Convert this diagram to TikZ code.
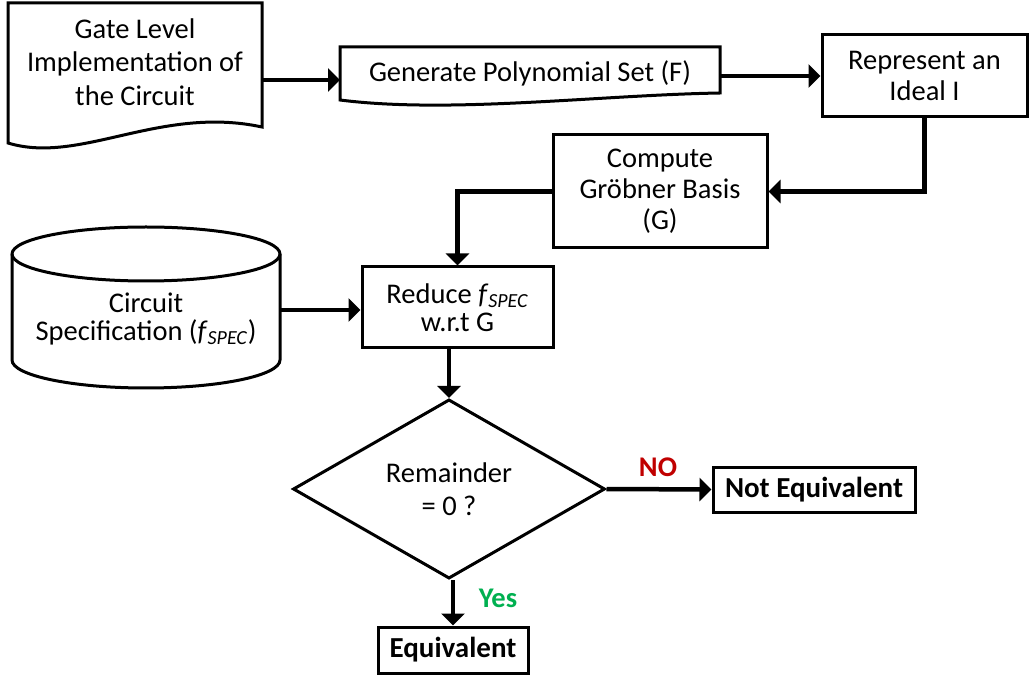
\documentclass[tikz,border=0pt]{standalone}
\usepackage{fontspec}
\setmainfont{Carlito}
\usetikzlibrary{arrows.meta,shapes.geometric}
\definecolor{noRed}{RGB}{192,0,0}
\definecolor{yesGreen}{RGB}{0,176,80}
\newcommand{\fspec}{\textit{f}\textsubscript{\textit{SPEC}}}
\newcommand{\mainsize}[1]{\fontsize{28.5}{#1}\selectfont}
\begin{document}
\begin{tikzpicture}[x=1pt,y=-1pt,
  outline/.style={draw=black, line width=3pt, fill=white, line join=miter},
  box/.style={outline, rectangle, inner sep=0pt, align=center},
  result/.style={outline, rectangle, inner sep=0pt, align=center,
    font=\bfseries\fontsize{29}{32}\selectfont},
  txt/.style={inner sep=0pt, align=center},
  flow/.style={line width=4.5pt, -{Triangle[length=12pt,width=23pt]}},
  answer/.style={inner sep=0pt, font=\bfseries\fontsize{28.5}{30}\selectfont}
]
\useasboundingbox (0,0) rectangle (1029,676);

% gate level netlist (document shape)
\draw[outline] (8,3) -- (262,3) -- (262,127)
  .. controls (160,105) and (80,165) .. (8,143) -- cycle;
\node[txt, font=\mainsize{33.5}] (gate) at (135,62)
  {Gate Level\\Implementation of\\the Circuit};
\coordinate (gateR) at (262,80);

% polynomial set (document shape)
\draw[outline] (340,47) -- (720,47) -- (720,93)
  .. controls (600,95) and (450,114) .. (340,100) -- cycle;
\node[txt, font=\mainsize{31}] (gen) at (530,73) {Generate Polynomial Set (F)};
\coordinate (genL) at (340,80);
\coordinate (genR) at (720,76);

% ideal
\node[box, minimum width=205pt, minimum height=82pt, font=\mainsize{31}]
  (rep) at (924.5,76) {Represent an\\Ideal I};

% Groebner basis
\node[box, minimum width=214pt, minimum height=113pt, font=\mainsize{31}]
  (cmp) at (660,191.5) {Compute\\Gröbner Basis\\(G)};

% reduction
\node[box, minimum width=191pt, minimum height=81pt, font=\mainsize{28}]
  (red) at (457.5,307.5) {Reduce \fspec\\w.r.t G};

% specification (cylinder)
\draw[outline] (12,254) -- (12,360)
  arc[start angle=180, end angle=360, x radius=134pt, y radius=28pt]
  -- (280,254)
  arc[start angle=0, end angle=180, x radius=134pt, y radius=27pt] -- cycle;
\draw[line width=3pt] (12,254)
  arc[start angle=180, end angle=360, x radius=134pt, y radius=27pt];
\node[txt, font=\mainsize{28}] (spec) at (146,319)
  {Circuit\\Specification (\fspec)};
\coordinate (specR) at (280,310);

% decision
\node[diamond, draw=black, line width=3pt, fill=white, inner sep=0pt,
  minimum width=312pt, minimum height=162pt, align=center,
  font=\mainsize{33}] (dia) at (449,489) {Remainder\\= 0 ?};

% outcomes
\node[result, minimum width=202pt, minimum height=45pt] (neq) at (814,489.5)
  {Not Equivalent};
\node[result, minimum width=150pt, minimum height=46pt] (eq) at (453,650)
  {Equivalent};

% connectors
\draw[flow] (gateR) -- (genL);
\draw[flow] (genR) -- (rep.west);
\draw[flow] (rep.south) |- (cmp.east);
\draw[flow] (cmp.west) -| (red.north);
\draw[flow] (specR) -- (specR -| red.west);
\draw[flow] (red.south -| dia.north) -- (dia.north);
\draw[flow] (dia.east) -- (neq.west);
\draw[flow] (dia.south -| eq.north) -- (eq.north);

% branch labels
\node[answer, text=noRed] (no) at (658,467) {NO};
\node[answer, text=yesGreen] (yes) at (498,598) {Yes};
\end{tikzpicture}
\end{document}
